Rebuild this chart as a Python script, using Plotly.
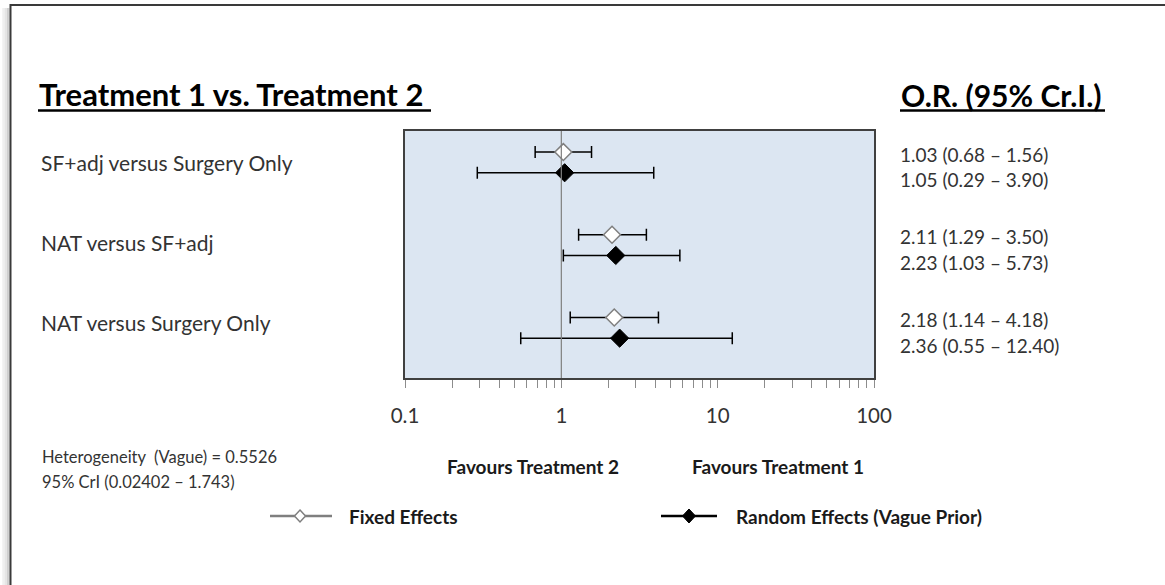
import plotly.graph_objects as go

# ---------------- data ----------------
comparisons = ["SF+adj versus Surgery Only", "NAT versus SF+adj", "NAT versus Surgery Only"]
fixed_or = [1.03, 2.11, 2.18]
fixed_lo = [0.68, 1.29, 1.14]
fixed_hi = [1.56, 3.50, 4.18]
random_or = [1.05, 2.23, 2.36]
random_lo = [0.29, 1.03, 0.55]
random_hi = [3.90, 5.73, 12.40]
major_ticks = [0.1, 1, 10, 100]
major_labels = ["0.1", "1", "10", "100"]
heterogeneity = ["Heterogeneity  (Vague) = 0.5526", "95% CrI (0.02402 \u2013 1.743)"]
series_names = ["Fixed Effects", "Random Effects (Vague Prior)"]
favours = ["Favours Treatment 2", "Favours Treatment 1"]
title_left = "Treatment 1 vs. Treatment 2"
title_right = "O.R. (95% Cr.I.)"

# ---------------- layout geometry ----------------
W, H = 1165, 585
L, R, T, B = 405, 874, 131, 378
PW, PH = R - L, B - T
FONT = "Lato"

def px(x):
    return (x - L) / PW

def py(y):
    return (B - y) / PH

row_unit = 82.7
yr_max = PH / row_unit
y_fixed = [i + 0.255 for i in range(3)]
y_random = [i + 0.505 for i in range(3)]

fig = go.Figure()

fig.add_trace(go.Scatter(
    x=fixed_or, y=y_fixed, mode="markers", showlegend=False, name=series_names[0],
    marker=dict(symbol="diamond", size=13, color="white", line=dict(color="#7f7f7f", width=1.5)),
    error_x=dict(type="data", symmetric=False,
                 array=[h - m for h, m in zip(fixed_hi, fixed_or)],
                 arrayminus=[m - l for m, l in zip(fixed_or, fixed_lo)],
                 color="black", thickness=1.5, width=6),
))
fig.add_trace(go.Scatter(
    x=random_or, y=y_random, mode="markers", showlegend=False, name=series_names[1],
    marker=dict(symbol="diamond", size=14, color="black", line=dict(color="black", width=1)),
    error_x=dict(type="data", symmetric=False,
                 array=[h - m for h, m in zip(random_hi, random_or)],
                 arrayminus=[m - l for m, l in zip(random_or, random_lo)],
                 color="black", thickness=1.5, width=6),
))

# tick values (major + minor)
tickvals, ticktext = [], []
for d, lab in zip(major_ticks[:-1], major_labels[:-1]):
    for k in range(1, 10):
        tickvals.append(d * k)
        ticktext.append(lab if k == 1 else "")
tickvals.append(major_ticks[-1])
ticktext.append(major_labels[-1])

shapes = []
# reference line at 1
shapes.append(dict(type="line", xref="x", yref="paper", x0=1, x1=1, y0=0, y1=1,
                   line=dict(color="#7f7f7f", width=1.2), layer="above"))
# outer frame + shadow
for xoff, col in [(3.5, "rgba(0,0,0,0.06)"), (6, "rgba(0,0,0,0.10)"), (8.3, "rgba(0,0,0,0.18)")]:
    shapes.append(dict(type="line", xref="paper", yref="paper",
                       x0=px(xoff), x1=px(xoff), y0=py(8), y1=py(590),
                       line=dict(color=col, width=2.5)))
shapes.append(dict(type="rect", xref="paper", yref="paper",
                   x0=px(10.5), x1=px(1175), y0=py(5), y1=py(595),
                   line=dict(color="#3a3a3a", width=2)))
# title underlines
shapes.append(dict(type="line", xref="paper", yref="paper", x0=px(38), x1=px(431), y0=py(110.5), y1=py(110.5),
                   line=dict(color="black", width=2.5)))
shapes.append(dict(type="line", xref="paper", yref="paper", x0=px(900), x1=px(1105), y0=py(110.5), y1=py(110.5),
                   line=dict(color="black", width=2.5)))

# custom legend glyphs (line + diamond)
def diamond_path(cx, cy, hw, hh):
    pts = [(cx, cy - hh), (cx + hw, cy), (cx, cy + hh), (cx - hw, cy)]
    return "M " + " L ".join(f"{px(a):.5f},{py(b):.5f}" for a, b in pts) + " Z"

LEG_Y = 516
shapes.append(dict(type="line", xref="paper", yref="paper", x0=px(270), x1=px(332), y0=py(LEG_Y), y1=py(LEG_Y),
                   line=dict(color="#7f7f7f", width=2.5)))
shapes.append(dict(type="path", xref="paper", yref="paper", path=diamond_path(300, LEG_Y, 5.5, 6),
                   fillcolor="white", line=dict(color="#7f7f7f", width=1.5)))
shapes.append(dict(type="line", xref="paper", yref="paper", x0=px(661), x1=px(717), y0=py(LEG_Y), y1=py(LEG_Y),
                   line=dict(color="black", width=2.5)))
shapes.append(dict(type="path", xref="paper", yref="paper", path=diamond_path(689, LEG_Y, 6.5, 7),
                   fillcolor="black", line=dict(color="black", width=1)))

ann = []
ann.append(dict(text="<b>" + title_left + "</b>", xref="paper", yref="paper", x=px(37), y=py(94),
                xanchor="left", yanchor="middle", showarrow=False, font=dict(family=FONT, size=31, color="black")))
ann.append(dict(text="<b>" + title_right + "</b>", xref="paper", yref="paper", x=px(899), y=py(95),
                xanchor="left", yanchor="middle", showarrow=False, font=dict(family=FONT, size=30, color="black")))
label_py = [162, 242, 322]
for name, yy in zip(comparisons, label_py):
    ann.append(dict(text=name, xref="paper", yref="paper", x=px(39), y=py(yy), xanchor="left", yanchor="middle",
                    showarrow=False, font=dict(family=FONT, size=21, color="#333333")))
for i in range(3):
    for yy, shift, m, lo, hi in [(y_fixed[i], -2, fixed_or[i], fixed_lo[i], fixed_hi[i]),
                                 (y_random[i], -7, random_or[i], random_lo[i], random_hi[i])]:
        ann.append(dict(text=f"{m:.2f} ({lo:.2f} \u2013 {hi:.2f})", xref="paper", yref="y",
                        x=px(899), y=yy, yshift=shift, xanchor="left", yanchor="middle", showarrow=False,
                        borderpad=0, font=dict(family=FONT, size=19, color="#333333")))
for t, cx in zip(favours, [533, 778]):
    ann.append(dict(text="<b>" + t + "</b>", xref="paper", yref="paper", x=px(cx), y=py(466),
                    xanchor="center", yanchor="middle", showarrow=False,
                    font=dict(family=FONT, size=19, color="#1a1a1a")))
for t, yy in zip(heterogeneity, [457, 482]):
    ann.append(dict(text=t, xref="paper", yref="paper", x=px(40), y=py(yy), xanchor="left", yanchor="middle",
                    showarrow=False, font=dict(family=FONT, size=16.5, color="#333333")))
for t, x0 in zip(series_names, [347, 734]):
    ann.append(dict(text="<b>" + t + "</b>", xref="paper", yref="paper", x=px(x0), y=py(LEG_Y), xanchor="left",
                    yanchor="middle", showarrow=False, font=dict(family=FONT, size=19, color="#1a1a1a")))

fig.update_layout(
    width=W, height=H,
    margin=dict(l=L, r=W - R, t=T, b=H - B, pad=0),
    paper_bgcolor="white", plot_bgcolor="#DCE6F2",
    showlegend=False,
    xaxis=dict(type="log", range=[-1, 2], tickvals=tickvals, ticktext=ticktext,
               ticks="outside", ticklen=8, tickcolor="#8c8c8c", tickwidth=1,
               showgrid=False, zeroline=False, showline=True, linecolor="#404040", linewidth=1.5, mirror=True,
               tickfont=dict(family=FONT, size=20.5, color="#333333"), ticklabelstandoff=11),
    yaxis=dict(range=[yr_max, 0], showticklabels=False, ticks="", showgrid=False, zeroline=False,
               showline=True, linecolor="#404040", linewidth=1.5, mirror=True),
    shapes=shapes, annotations=ann,
    hovermode=False,
)

fig.write_html("out.html", config={"displayModeBar": False},
               post_script="document.body.style.margin='0';document.body.style.overflow='hidden';")
